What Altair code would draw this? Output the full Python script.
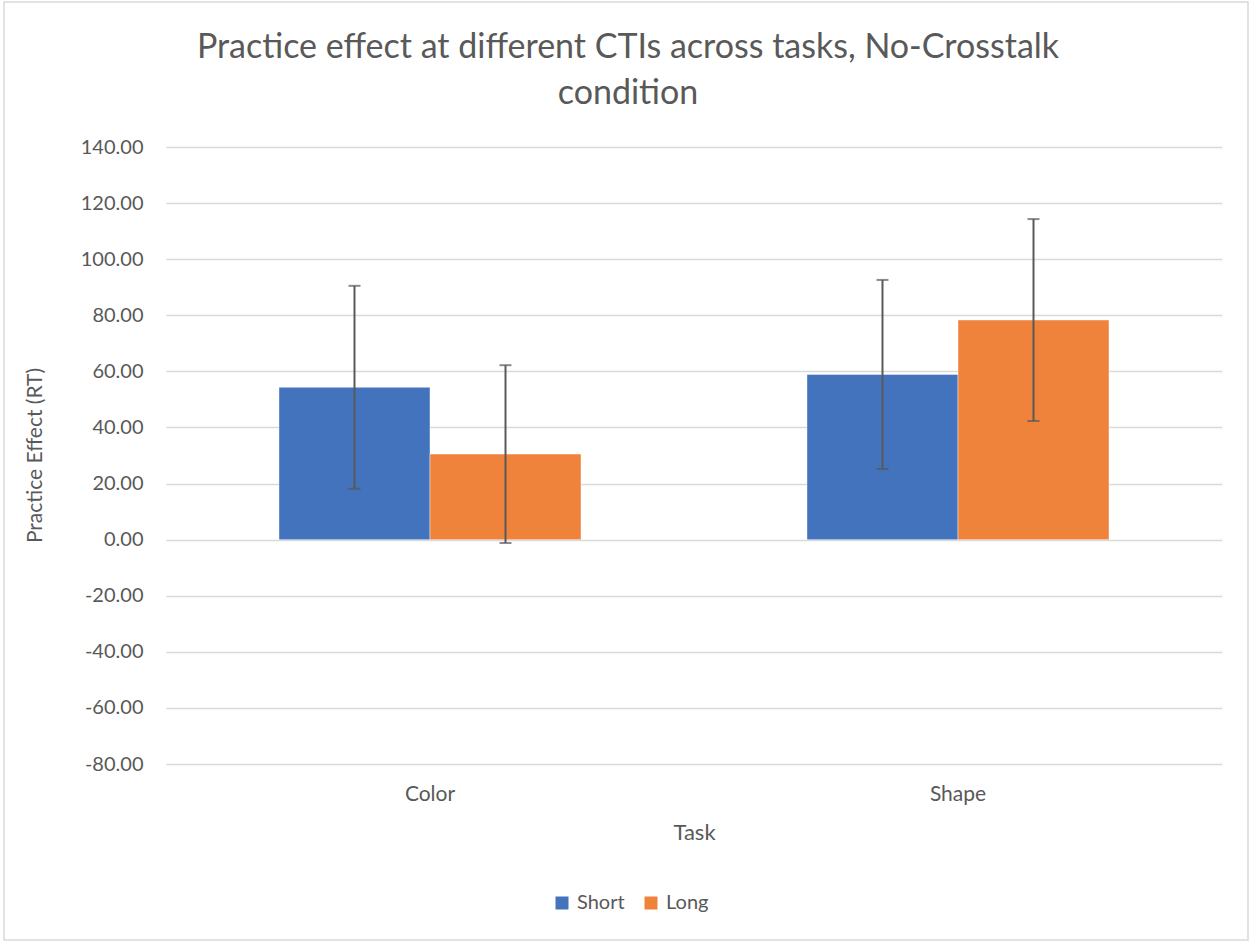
import altair as alt
import pandas as pd

# ---- data ----
tasks = ["Color", "Color", "Shape", "Shape"]
ctis = ["Short", "Long", "Short", "Long"]
means = [54.3, 30.5, 58.9, 78.3]
errors = [36.2, 31.7, 33.7, 36.0]

task_order = ["Color", "Shape"]
cti_order = ["Short", "Long"]
cti_colors = ["#4273BC", "#F0833C"]
y_ticks = [-80, -60, -40, -20, 0, 20, 40, 60, 80, 100, 120, 140]
title_lines = ["Practice effect at different CTIs across tasks, No-Crosstalk", "condition"]

df = pd.DataFrame({"Task": tasks, "CTI": ctis, "Mean": means, "Err": errors})
df["Lo"] = df["Mean"] - df["Err"]
df["Hi"] = df["Mean"] + df["Err"]

FONT = "Lato"
TXT = "#595959"

x_enc = alt.X(
    "Task:N",
    sort=task_order,
    scale=alt.Scale(paddingInner=0.428, paddingOuter=0.214),
    axis=alt.Axis(
        title="Task",
        labelAngle=0,
        ticks=False,
        domain=False,
        grid=False,
        labelPadding=19,
        labelFontSize=21,
        titleFontSize=22,
        titleFontWeight="normal",
        titleY=68,
        titleBaseline="middle",
    ),
)
xo_enc = alt.XOffset("CTI:N", sort=cti_order, scale=alt.Scale(paddingInner=0, paddingOuter=0))

y_scale = alt.Scale(domain=[-80, 140], nice=False, zero=False)

base = alt.Chart(df)

bars = base.mark_bar(stroke="white", strokeWidth=0.6, strokeOpacity=0.7).encode(
    x=x_enc,
    xOffset=xo_enc,
    y=alt.Y(
        "Mean:Q",
        scale=y_scale,
        axis=alt.Axis(
            title="Practice Effect (RT)",
            values=y_ticks,
            labelExpr="(datum.value < 0 ? '-' : '') + format(abs(datum.value), '.2f')",
            ticks=False,
            domain=False,
            labelPadding=23,
            labelFontSize=20,
            titleFontSize=21,
            titleFontWeight="normal",
            titleX=-131,
            titleY=308,
            titleBaseline="middle",
            gridColor="#d9d9d9",
            gridWidth=1.5,
        ),
    ),
    color=alt.Color(
        "CTI:N",
        sort=cti_order,
        scale=alt.Scale(domain=cti_order, range=cti_colors),
        legend=alt.Legend(
            title=None,
            orient="none",
            legendX=386,
            legendY=746,
            direction="horizontal",
            symbolType="square",
            symbolSize=169,
            symbolStrokeWidth=0,
            labelFontSize=20,
            labelFont=FONT,
            labelColor=TXT,
            columnPadding=16,
            labelOffset=5,
        ),
    ),
)

rules = base.mark_rule(color="#595959", strokeWidth=2).encode(
    x=alt.X("Task:N", sort=task_order),
    xOffset=alt.XOffset("CTI:N", sort=cti_order),
    y=alt.Y("Lo:Q", scale=y_scale),
    y2="Hi:Q",
)

caps_lo = base.mark_tick(color="#595959", size=12, thickness=2).encode(
    x=alt.X("Task:N", sort=task_order),
    xOffset=alt.XOffset("CTI:N", sort=cti_order),
    y=alt.Y("Lo:Q", scale=y_scale),
)
caps_hi = base.mark_tick(color="#595959", size=12, thickness=2).encode(
    x=alt.X("Task:N", sort=task_order),
    xOffset=alt.XOffset("CTI:N", sort=cti_order),
    y=alt.Y("Hi:Q", scale=y_scale),
)

one = pd.DataFrame({"a": [0]})

frame = alt.Chart(one).mark_rect(
    fill="transparent", stroke="#d9d9d9", strokeWidth=1.5
).encode(
    x=alt.value(-162), x2=alt.value(1082), y=alt.value(-145), y2=alt.value(793)
)

title1 = alt.Chart(one).mark_text(
    text=title_lines[0], font=FONT, fontSize=34, color=TXT,
    align="center", baseline="alphabetic",
).encode(x=alt.value(462), y=alt.value(-89))

title2 = alt.Chart(one).mark_text(
    text=title_lines[1], font=FONT, fontSize=34, color=TXT,
    align="center", baseline="alphabetic",
).encode(x=alt.value(462), y=alt.value(-43))

chart = (
    alt.layer(frame, bars, rules, caps_lo, caps_hi, title1, title2)
    .properties(
        width=1056,
        height=617,
        autosize=alt.AutoSizeParams(type="none"),
        padding={"left": 166, "top": 147, "right": 28, "bottom": 179},
        background="white",
    )
    .configure_axis(labelFont=FONT, titleFont=FONT, labelColor=TXT, titleColor=TXT)
    .configure_view(stroke=None)
)

chart.save("out.html", embed_options={"renderer": "svg", "actions": False})
